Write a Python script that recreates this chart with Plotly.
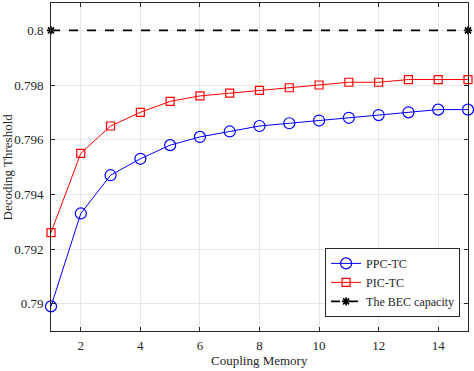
import plotly.graph_objects as go

memory = list(range(1, 16))
ppc_tc = [0.7899, 0.7933, 0.7947, 0.7953, 0.7958, 0.7961, 0.7963, 0.7965,
          0.7966, 0.7967, 0.7968, 0.7969, 0.7970, 0.7971, 0.7971]
pic_tc = [0.7926, 0.7955, 0.7965, 0.7970, 0.7974, 0.7976, 0.7977, 0.7978,
          0.7979, 0.7980, 0.7981, 0.7981, 0.7982, 0.7982, 0.7982]
bec_x = [1, 15]
bec_cap = [0.8, 0.8]

y_ticks = [0.79, 0.792, 0.794, 0.796, 0.798, 0.8]
y_labels = ['0.79', '0.792', '0.794', '0.796', '0.798', '0.8']
x_ticks = [2, 4, 6, 8, 10, 12, 14]

font = 'Liberation Serif'
ink = '#262626'

fig = go.Figure()
fig.add_trace(go.Scatter(
    x=memory, y=ppc_tc, name='PPC-TC', mode='lines+markers', cliponaxis=False,
    line=dict(color='#0000ff', width=1),
    marker=dict(symbol='circle-open', size=11, color='#0000ff', line=dict(width=1.2))))
fig.add_trace(go.Scatter(
    x=memory, y=pic_tc, name='PIC-TC', mode='lines+markers', cliponaxis=False,
    line=dict(color='#ff0000', width=1),
    marker=dict(symbol='square-open', size=8, color='#ff0000', line=dict(width=1.2))))
fig.add_trace(go.Scatter(
    x=bec_x, y=bec_cap, name='The BEC capacity', mode='lines+markers', cliponaxis=False,
    line=dict(color='#000000', width=1.6, dash='dash'),
    marker=dict(symbol='asterisk-open', size=7, color='#000000', line=dict(width=1.6))))

axis_common = dict(
    showline=True, linecolor=ink, linewidth=1, mirror='ticks',
    ticks='inside', ticklen=4, tickcolor=ink, automargin=False,
    showgrid=True, gridcolor='#e6e6e6', gridwidth=1, zeroline=False,
    tickfont=dict(family=font, size=13, color=ink),
)

fig.update_layout(
    width=474, height=371,
    margin=dict(l=51, r=6, t=3, b=40),
    paper_bgcolor='white', plot_bgcolor='white',
    font=dict(family=font, size=13, color=ink),
    xaxis=dict(range=[1, 15], tickvals=x_ticks, ticklabelstandoff=2, **axis_common),
    yaxis=dict(range=[0.789, 0.801], tickvals=y_ticks, ticktext=y_labels,
               ticklabelstandoff=4, **axis_common),
    legend=dict(x=0.981, y=0.043, xanchor='right', yanchor='bottom',
                bgcolor='white', bordercolor=ink, borderwidth=1,
                font=dict(family=font, size=12), tracegroupgap=0,
                itemwidth=30),
    showlegend=True,
    annotations=[
        dict(text='Coupling Memory', xref='paper', yref='paper', x=0.5, y=0,
             yshift=-20, xanchor='center', yanchor='top', showarrow=False,
             font=dict(family=font, size=13, color=ink)),
        dict(text='Decoding Threshold', xref='paper', yref='paper', x=0, y=0.5,
             xshift=-35, xanchor='right', yanchor='middle', textangle=-90,
             showarrow=False, font=dict(family=font, size=13, color=ink)),
    ],
)

# page body has an 8px default margin; drop it so the figure sits at 0,0
fig.write_html("out.html", config={'displayModeBar': False},
               post_script="document.body.style.margin='0';")
